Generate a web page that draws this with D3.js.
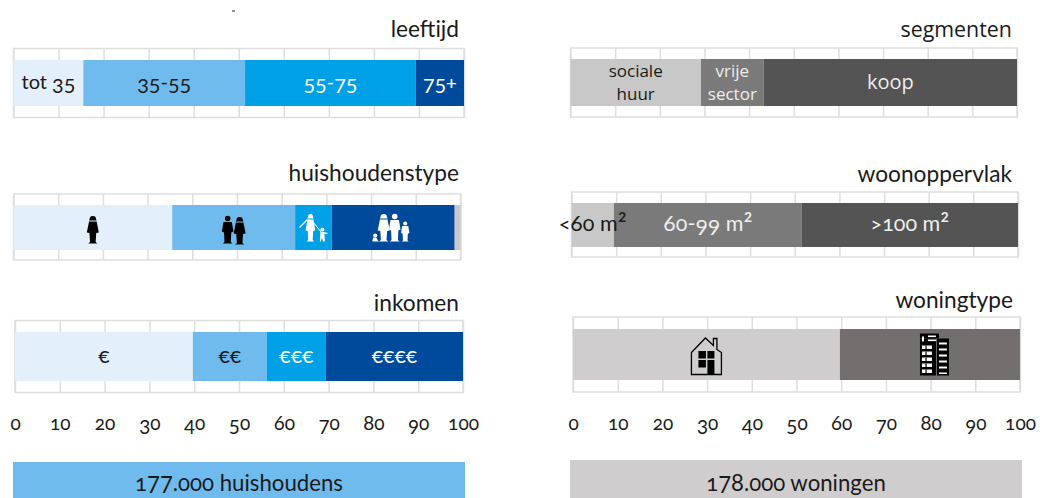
<!DOCTYPE html>
<html>
<head>
<meta charset="utf-8">
<script src="https://cdn.jsdelivr.net/npm/d3@7"></script>
<style>
  html, body { margin: 0; padding: 0; background: #fff; }
  text { font-family: Lato, sans-serif; font-feature-settings: "onum" 1; fill: #1a1a1a; }
  text.plain { font-family: "Open Sans", sans-serif; }
  .tick text { font-family: Lato, sans-serif; }
</style>
</head>
<body>
<div id="chart"></div>
<script>
// values (percentages per segment)
var leeftijdNames = ["tot 35", "35-55", "55-75", "75+"];
var leeftijdValues = [15.5, 35.9, 37.9, 10.7];

var huishoudenNames = ["single", "couple", "parent", "family", ""];
var huishoudenValues = [35.5, 27.5, 8.2, 27.5, 1.3];

var inkomenNames = ["€", "€€", "€€€", "€€€€"];
var inkomenValues = [39.7, 16.5, 13.2, 30.6];

var segmentenNames = ["sociale|huur", "vrije|sector", "koop"];
var segmentenValues = [29.2, 14.1, 56.7];

var oppervlakNames = ["<60 m²", "60-99 m²", ">100 m²"];
var oppervlakValues = [9.5, 42.1, 48.4];

var woningNames = ["house", "tower"];
var woningValues = [59.7, 40.3];

var tickValues = [0, 10, 20, 30, 40, 50, 60, 70, 80, 90, 100];

var blues = ["#e3f0fb", "#6fbbee", "#00a0e6", "#004a9b", "#c8c8c8"];
var blueText = ["#1a1a1a", "#1a1a1a", "#fff", "#fff"];

var svg = d3.select("#chart").append("svg")
  .attr("width", 1040)
  .attr("height", 498)
  .style("display", "block");

// stray mark above the first panel
svg.append("rect").attr("x", 232).attr("y", 10.5).attr("width", 3).attr("height", 1).attr("fill", "#222");

// the original font has old style figures: 3 4 5 7 9 hang under the baseline, 6 8 stand tall
function oldStyle(sel, shift) {
  sel.each(function () {
    var t = d3.select(this);
    var chars = t.text().split("");
    t.text(null);
    chars.forEach(function (c) {
      var s = t.append("tspan").text(c);
      if ("34579".indexOf(c) >= 0) {
        s.style("font-feature-settings", '"lnum" 1').style("baseline-shift", "-" + (shift || 0.2) + "em");
      }
      if ("68".indexOf(c) >= 0) s.style("font-feature-settings", '"lnum" 1');
      if (c === "²") s.style("baseline-shift", "-0.12em").style("font-size", "1.25em");
    });
  });
}

// small pictograms, drawn around 0,0
function woman(g, x, y, fill) {
  var p = g.append("g").attr("transform", `translate(${x},${y})`).attr("fill", fill);
  p.append("path").attr("d", "M-3.2,-10.5 a3.2,3 0 1 1 6.4,0 l0.6,1.5 h-7.6z");
  p.append("path").attr("d", "M-3.8,-8 L3.8,-8 L6,3 L3.4,3.6 L2.8,12.5 L4.6,14 L-4.6,14 L-2.8,12.5 L-3.4,3.6 L-6,3Z");
}

function man(g, x, y, fill) {
  var p = g.append("g").attr("transform", `translate(${x},${y})`).attr("fill", fill);
  p.append("circle").attr("cy", -11).attr("r", 2.8);
  p.append("path").attr("d", "M-4.2,-7.5 L4.2,-7.5 L5.8,2 L3.6,3 L3.2,12.5 L4.8,14 L-4.8,14 L-3.2,12.5 L-3.6,3 L-5.8,2Z");
}

var icons = {
  single: function (g) { woman(g, 0, 2, "#000"); },
  couple: function (g) { man(g, -6, 2, "#000"); woman(g, 6, 3, "#000"); },
  parent: function (g) {
    g.append("g").attr("transform", "translate(-3,0) scale(0.8,1)").call(function (k) { woman(k, 0, 0, "#fff"); });
    g.append("path").attr("d", "M-6,-8 L-14,0").attr("stroke", "#fff").attr("stroke-width", 1.2);
    g.append("path").attr("d", "M0,-5 L8,5").attr("stroke", "#fff").attr("stroke-width", 1);
    g.append("circle").attr("cx", 9).attr("cy", 2).attr("r", 2).attr("fill", "#fff");
    g.append("path").attr("d", "M7,4.5 h4 l3,1 v1 l-3,0 l0.5,7.5 h-2 l-1,-4 l-1,4 h-1z").attr("fill", "#fff");
  },
  family: function (g) {
    woman(g, -9.5, 0, "#fff");
    man(g, 1.5, 0, "#fff");
    g.append("g").attr("transform", "translate(12,4) scale(0.72)").call(function (k) { man(k, 0, 0, "#fff"); });
    g.append("circle").attr("cx", -18).attr("cy", 8).attr("r", 2).attr("fill", "#fff");
    g.append("path").attr("d", "M-21,13.5 L-20,10 h3 l2,3.5 l1.5,.5 h-6.5z").attr("fill", "#fff");
  },
  house: function (g) {
    g.append("path").attr("d", "M-15,20 V-2 L-1,-16.5 L7,-9 V-16 H10.5 V-5 L15,-2 V20Z")
      .attr("fill", "none").attr("stroke", "#000").attr("stroke-width", 1.3);
    g.append("path").attr("d", "M-8,-3.5 h7.5 v7.5 h-7.5z M1,-3.5 h7 v7.5 h-7z M-8,5.5 h7.5 v7.5 h-7.5z M1,5.5 h7 v14.5 h-7z").attr("fill", "#000");
  },
  tower: function (g) {
    g.append("rect").attr("x", -14).attr("y", -21).attr("width", 19).attr("height", 5).attr("fill", "#000");
    g.append("rect").attr("x", -14).attr("y", -16).attr("width", 16).attr("height", 37).attr("fill", "#000");
    g.append("rect").attr("x", 3).attr("y", -16).attr("width", 12).attr("height", 37).attr("fill", "#000");
    d3.range(5).forEach(function (i) {
      g.append("rect").attr("x", -12).attr("y", -9 + i * 6).attr("width", 10).attr("height", 3.5).attr("fill", "#fff");
      g.append("rect").attr("x", -8.5).attr("y", -9 + i * 6).attr("width", 1.2).attr("height", 3.5).attr("fill", "#000");
      g.append("rect").attr("x", 5).attr("y", -12 + i * 6).attr("width", 8).attr("height", 2).attr("fill", "#fff");
    });
    g.append("rect").attr("x", 5).attr("y", 18).attr("width", 8).attr("height", 1.5).attr("fill", "#fff");
    g.append("rect").attr("x", -6).attr("y", -19).attr("width", 8).attr("height", 1.6).attr("fill", "#fff");
    g.append("rect").attr("x", -6).attr("y", -15).attr("width", 8).attr("height", 1.6).attr("fill", "#fff");
    g.append("rect").attr("x", -12).attr("y", -18).attr("width", 2).attr("height", 5).attr("fill", "#fff");
  }
};

// one stacked bar with its grid box and title
function drawPanel(opt) {
  var x = d3.scaleLinear().domain([0, 100]).range([opt.x0, opt.x1]);
  var g = svg.append("g");

  // grid
  var grid = g.append("g").attr("transform", `translate(0,${opt.top})`)
    .call(d3.axisBottom(x).tickValues(tickValues).tickSize(opt.bottom - opt.top).tickFormat(""));
  grid.select(".domain").remove();
  grid.selectAll("line").attr("stroke", "#dedede").attr("stroke-width", 1.5);
  g.append("rect")
    .attr("x", opt.x0).attr("y", opt.top)
    .attr("width", opt.x1 - opt.x0).attr("height", opt.bottom - opt.top)
    .attr("fill", "none").attr("stroke", "#dedede").attr("stroke-width", 1.5);

  // stacked segments
  var cum = d3.cumsum(opt.values);
  var segs = opt.values.map(function (v, i) {
    return { name: opt.names[i], start: cum[i] - v, end: cum[i], i: i };
  });

  g.selectAll(".seg").data(segs).join("rect")
    .attr("class", "seg")
    .attr("x", function (d) { return x(d.start); })
    .attr("y", opt.barTop)
    .attr("width", function (d) { return x(d.end) - x(d.start); })
    .attr("height", opt.barBottom - opt.barTop)
    .attr("fill", function (d) { return opt.colors[d.i]; });

  var mid = (opt.barTop + opt.barBottom) / 2;

  segs.forEach(function (d) {
    var cx = (x(d.start) + x(d.end)) / 2;
    if (icons[d.name]) {
      g.append("g").attr("transform", `translate(${cx + (opt.iconDx ? opt.iconDx[d.i] : 0)},${mid})`).call(icons[d.name]);
    } else if (d.name) {
      var parts = d.name.split("|");
      parts.forEach(function (t, k) {
        g.append("text")
          .attr("class", opt.plain ? "plain" : "figures")
          .attr("x", cx)
          .attr("y", mid + (k - (parts.length - 1) / 2) * 23 + 6)
          .attr("text-anchor", "middle")
          .style("font-size", (opt.labelSizes ? opt.labelSizes[d.i] : 20) + "px")
          .style("fill", opt.textColors[d.i])
          .text(t);
      });
    }
  });
  g.selectAll("text.figures").call(oldStyle);

  g.append("text")
    .attr("class", opt.plain ? "plain" : null)
    .attr("x", opt.titleX)
    .attr("y", opt.titleY)
    .attr("text-anchor", "end")
    .style("font-size", (opt.plain ? 21.4 : 22.7) + "px")
    .text(opt.title);

  if (opt.axisY) {
    var ax = g.append("g").attr("transform", `translate(0,${opt.axisY})`)
      .call(d3.axisBottom(x).tickValues(tickValues).tickSize(0).tickPadding(0));
    ax.select(".domain").remove();
    ax.selectAll("text").style("font-size", "19px").attr("dy", 0).call(oldStyle);
  }
}

drawPanel({ title: "leeftijd", names: leeftijdNames, values: leeftijdValues, colors: blues, textColors: blueText,
  x0: 13.5, x1: 464, top: 48.5, bottom: 117.5, barTop: 60, barBottom: 106, titleX: 459, titleY: 37 });

drawPanel({ title: "huishoudenstype", names: huishoudenNames, values: huishoudenValues, colors: blues, textColors: blueText,
  x0: 13.5, x1: 460.5, top: 194, bottom: 260, barTop: 205, barBottom: 250, titleX: 459, titleY: 181 });

drawPanel({ title: "inkomen", names: inkomenNames, values: inkomenValues, colors: blues, textColors: blueText, labelSizes: [21, 21, 21, 21],
  x0: 15, x1: 463, top: 320.5, bottom: 392.5, barTop: 332, barBottom: 381, titleX: 459, titleY: 311, axisY: 430 });

var greys = ["#c8c8c8", "#7a7a7a", "#545454"];
var greyText = ["#1a1a1a", "#eee", "#eee"];

drawPanel({ title: "segmenten", names: segmentenNames, values: segmentenValues, colors: greys, textColors: greyText, plain: true, labelSizes: [17, 17, 20],
  x0: 570.5, x1: 1017, top: 48, bottom: 117, barTop: 59, barBottom: 106, titleX: 1012, titleY: 37 });

drawPanel({ title: "woonoppervlak", names: oppervlakNames, values: oppervlakValues, colors: greys, textColors: greyText, labelSizes: [21.5, 21.5, 21.5],
  x0: 571.5, x1: 1018, top: 192, bottom: 257, barTop: 203, barBottom: 247, titleX: 1012, titleY: 182 });

drawPanel({ title: "woningtype", names: woningNames, values: woningValues, colors: ["#cfcdce", "#736f6e"], textColors: greyText, iconDx: [0, 4],
  x0: 573, x1: 1020, top: 317, bottom: 392, barTop: 329, barBottom: 380, titleX: 1013, titleY: 308, axisY: 430 });

// totals under the charts
var totals = [
  { label: "177.000 huishoudens", x: 13, w: 452, y: 462, fill: "#6fbbee" },
  { label: "178.000 woningen", x: 570, w: 452, y: 460, fill: "#cfcdce" }
];

svg.selectAll(".total").data(totals).join("rect")
  .attr("class", "total")
  .attr("x", function (d) { return d.x; })
  .attr("y", function (d) { return d.y; })
  .attr("width", function (d) { return d.w; })
  .attr("height", function (d) { return 498 - d.y; })
  .attr("fill", function (d) { return d.fill; });

svg.selectAll(".total-label").data(totals).join("text")
  .attr("class", "total-label")
  .attr("x", function (d) { return d.x + d.w / 2; })
  .attr("y", 490.5)
  .attr("text-anchor", "middle")
  .style("font-size", "22.2px")
  .text(function (d) { return d.label; })
  .call(oldStyle, 0.08);
</script>
</body>
</html>
